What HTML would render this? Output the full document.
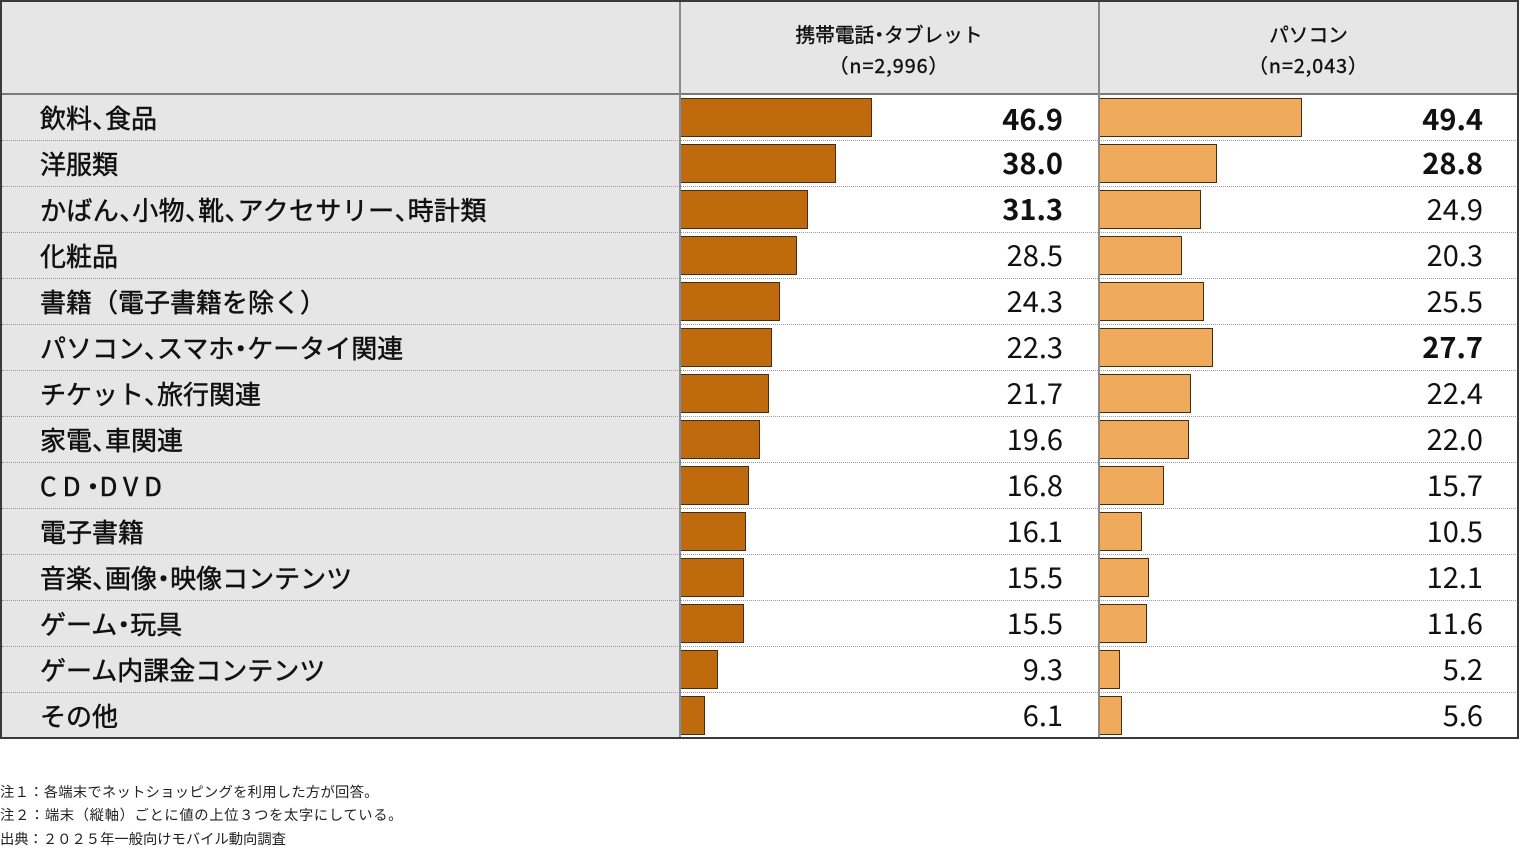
<!DOCTYPE html>
<html><head><meta charset="utf-8">
<style>
*{margin:0;padding:0;box-sizing:border-box}
body{width:1520px;height:851px;background:#fff;position:relative;overflow:hidden;font-family:"Liberation Sans","Noto Sans CJK JP",sans-serif;color:#111}
.abs{position:absolute}
.lbl{position:absolute;left:40px;width:630px;height:46px;line-height:46px;font-family:"Noto Sans CJK JP",sans-serif;font-size:26px;font-weight:400;-webkit-text-stroke:0.5px #111;color:#111;white-space:nowrap}
.c{letter-spacing:-0.5em}
.d{margin-left:-0.25em;letter-spacing:-0.25em}
.bar{position:absolute;height:39px;border:1px solid #4a2c0c}
.b1{background:#bf6a0c}
.b2{background:#f0aa5c}
.val{position:absolute;width:200px;text-align:right;height:46px;line-height:46px;font-family:"Noto Sans CJK JP",sans-serif;font-size:29px;color:#111}
.bold{font-weight:700}
.sep{position:absolute;left:2px;width:1516px;height:0;border-top:1px dotted #9a9a9a}
.hd{position:absolute;text-align:center;font-family:"Noto Sans CJK JP",sans-serif;font-size:19.7px;font-weight:400;-webkit-text-stroke:0.4px #111;line-height:31px;color:#111}
.note{position:absolute;left:0;font-family:"Noto Sans CJK JP",sans-serif;font-size:14.3px;color:#222;line-height:20px;white-space:nowrap}
</style></head><body>
<!-- backgrounds -->
<div class="abs" style="left:0;top:0;width:1519px;height:94px;background:#e6e6e6"></div>
<div class="abs" style="left:0;top:94px;width:680px;height:645px;background:#e6e6e6"></div>
<!-- header texts -->
<div class="hd" style="left:680px;top:18px;width:418px">携帯電話<span class="d">・</span>タブレット<br><span style="letter-spacing:1px">（n=2,996）</span></div>
<div class="hd" style="left:1099px;top:18px;width:419px">パソコン<br><span style="letter-spacing:1px">（n=2,043）</span></div>

<!-- separators -->
<div class="sep" style="top:140px"></div>
<div class="sep" style="top:186px"></div>
<div class="sep" style="top:232px"></div>
<div class="sep" style="top:278px"></div>
<div class="sep" style="top:324px"></div>
<div class="sep" style="top:370px"></div>
<div class="sep" style="top:416px"></div>
<div class="sep" style="top:462px"></div>
<div class="sep" style="top:508px"></div>
<div class="sep" style="top:554px"></div>
<div class="sep" style="top:600px"></div>
<div class="sep" style="top:646px"></div>
<div class="sep" style="top:692px"></div>

<!-- labels -->
<div class="lbl" style="top:95px">飲料<span class="c">、</span>食品</div>
<div class="lbl" style="top:141px">洋服類</div>
<div class="lbl" style="top:187px;letter-spacing:0.4px">かばん<span class="c">、</span>小物<span class="c">、</span>靴<span class="c">、</span>アクセサリー<span class="c">、</span>時計類</div>
<div class="lbl" style="top:233px">化粧品</div>
<div class="lbl" style="top:279px">書籍（電子書籍を除く）</div>
<div class="lbl" style="top:325px">パソコン<span class="c">、</span>スマホ<span class="d">・</span>ケータイ関連</div>
<div class="lbl" style="top:371px">チケット<span class="c">、</span>旅行関連</div>
<div class="lbl" style="top:417px">家電<span class="c">、</span>車関連</div>
<div class="lbl" style="top:463px;letter-spacing:6px">CD<span class="d">・</span>DVD</div>
<div class="lbl" style="top:509px">電子書籍</div>
<div class="lbl" style="top:555px">音楽<span class="c">、</span>画像<span class="d">・</span>映像コンテンツ</div>
<div class="lbl" style="top:601px">ゲーム<span class="d">・</span>玩具</div>
<div class="lbl" style="top:647px">ゲーム内課金コンテンツ</div>
<div class="lbl" style="top:693px">その他</div>

<!-- col2 bars -->
<div class="bar b1" style="left:680px;top:98px;width:192px"></div>
<div class="bar b1" style="left:680px;top:144px;width:156px"></div>
<div class="bar b1" style="left:680px;top:190px;width:128px"></div>
<div class="bar b1" style="left:680px;top:236px;width:117px"></div>
<div class="bar b1" style="left:680px;top:282px;width:100px"></div>
<div class="bar b1" style="left:680px;top:328px;width:92px"></div>
<div class="bar b1" style="left:680px;top:374px;width:89px"></div>
<div class="bar b1" style="left:680px;top:420px;width:80px"></div>
<div class="bar b1" style="left:680px;top:466px;width:69px"></div>
<div class="bar b1" style="left:680px;top:512px;width:66px"></div>
<div class="bar b1" style="left:680px;top:558px;width:64px"></div>
<div class="bar b1" style="left:680px;top:604px;width:64px"></div>
<div class="bar b1" style="left:680px;top:650px;width:38px"></div>
<div class="bar b1" style="left:680px;top:696px;width:25px"></div>

<!-- col3 bars -->
<div class="bar b2" style="left:1099px;top:98px;width:203px"></div>
<div class="bar b2" style="left:1099px;top:144px;width:118px"></div>
<div class="bar b2" style="left:1099px;top:190px;width:102px"></div>
<div class="bar b2" style="left:1099px;top:236px;width:83px"></div>
<div class="bar b2" style="left:1099px;top:282px;width:105px"></div>
<div class="bar b2" style="left:1099px;top:328px;width:114px"></div>
<div class="bar b2" style="left:1099px;top:374px;width:92px"></div>
<div class="bar b2" style="left:1099px;top:420px;width:90px"></div>
<div class="bar b2" style="left:1099px;top:466px;width:65px"></div>
<div class="bar b2" style="left:1099px;top:512px;width:43px"></div>
<div class="bar b2" style="left:1099px;top:558px;width:50px"></div>
<div class="bar b2" style="left:1099px;top:604px;width:48px"></div>
<div class="bar b2" style="left:1099px;top:650px;width:21px"></div>
<div class="bar b2" style="left:1099px;top:696px;width:23px"></div>

<!-- col2 values -->
<div class="val bold" style="left:863px;top:95px">46.9</div>
<div class="val bold" style="left:863px;top:139px">38.0</div>
<div class="val bold" style="left:863px;top:185px">31.3</div>
<div class="val" style="left:863px;top:231px">28.5</div>
<div class="val" style="left:863px;top:277px">24.3</div>
<div class="val" style="left:863px;top:323px">22.3</div>
<div class="val" style="left:863px;top:369px">21.7</div>
<div class="val" style="left:863px;top:415px">19.6</div>
<div class="val" style="left:863px;top:461px">16.8</div>
<div class="val" style="left:863px;top:507px">16.1</div>
<div class="val" style="left:863px;top:553px">15.5</div>
<div class="val" style="left:863px;top:599px">15.5</div>
<div class="val" style="left:863px;top:645px">9.3</div>
<div class="val" style="left:863px;top:691px">6.1</div>

<!-- col3 values -->
<div class="val bold" style="left:1283px;top:95px">49.4</div>
<div class="val bold" style="left:1283px;top:139px">28.8</div>
<div class="val" style="left:1283px;top:185px">24.9</div>
<div class="val" style="left:1283px;top:231px">20.3</div>
<div class="val" style="left:1283px;top:277px">25.5</div>
<div class="val bold" style="left:1283px;top:323px">27.7</div>
<div class="val" style="left:1283px;top:369px">22.4</div>
<div class="val" style="left:1283px;top:415px">22.0</div>
<div class="val" style="left:1283px;top:461px">15.7</div>
<div class="val" style="left:1283px;top:507px">10.5</div>
<div class="val" style="left:1283px;top:553px">12.1</div>
<div class="val" style="left:1283px;top:599px">11.6</div>
<div class="val" style="left:1283px;top:645px">5.2</div>
<div class="val" style="left:1283px;top:691px">5.6</div>

<!-- lines -->
<div class="abs" style="left:0;top:93px;width:1519px;height:2px;background:#7a7a7a"></div>
<div class="abs" style="left:679px;top:0;width:2px;height:739px;background:#8a8a8a"></div>
<div class="abs" style="left:1098px;top:0;width:2px;height:739px;background:#8a8a8a"></div>
<!-- outer border -->
<div class="abs" style="left:0;top:0;width:1519px;height:739px;border:2px solid #3a3a3a"></div>

<!-- notes -->
<div class="note" style="top:782px;letter-spacing:0.27px">注１：各端末でネットショッピングを利用した方が回答。</div>
<div class="note" style="top:805px;letter-spacing:0.65px">注２：端末（縦軸）ごとに値の上位３つを太字にしている。</div>
<div class="note" style="top:829px">出典：２０２５年一般向けモバイル動向調査</div>
</body></html>
